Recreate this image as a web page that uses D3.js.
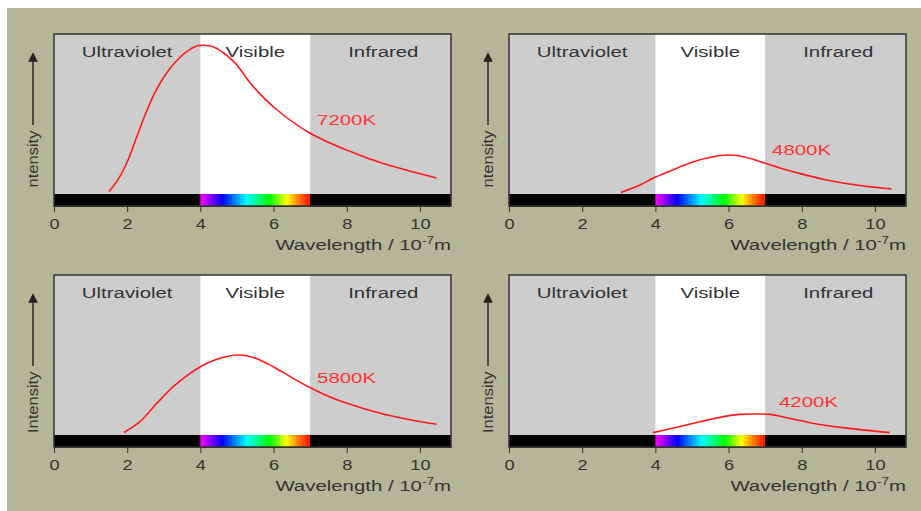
<!DOCTYPE html>
<html>
<head>
<meta charset="utf-8">
<script src="https://cdn.jsdelivr.net/npm/d3@7"></script>
<style>
  body { margin: 0; background: #fff; }
  text { font-family: "Liberation Sans", Arial, sans-serif; }
</style>
</head>
<body>
<div id="chart"></div>
<script>
// Wavelength (10^-7 m) and relative intensity
const temps = ["7200K", "4800K", "5800K", "4200K"];

const wl7200 = [1.5, 1.75, 2.0, 2.25, 2.5, 2.75, 3.0, 3.3, 3.6, 3.9, 4.1, 4.35, 4.9, 5.45, 6.1, 7.0, 8.1, 9.0, 10.45];
const in7200 = [1.5, 9, 20, 35, 50, 63, 73, 82, 88.5, 92.5, 93, 92, 83, 67, 52.5, 38, 26.5, 19, 10];

const wl4800 = [3.06, 3.58, 3.99, 4.58, 5.04, 5.58, 5.95, 6.31, 6.68, 6.95, 7.4, 7.95, 8.68, 9.59, 10.46];
const in4800 = [1.0, 5.6, 10.5, 16, 20.2, 23.3, 24.4, 23.8, 21.6, 19.6, 16.3, 12.8, 8.8, 5.3, 3.1];

const wl5800 = [1.91, 2.35, 2.81, 3.26, 3.72, 4.0, 4.45, 4.99, 5.45, 5.99, 6.54, 6.98, 7.63, 8.54, 9.45, 10.46];
const in5800 = [1.5, 8.3, 19.8, 30.2, 38.5, 42.7, 47.3, 50, 48.5, 42.7, 35.4, 29.8, 22.9, 16, 10.8, 6.7];

const wl4200 = [3.94, 4.58, 5.22, 5.86, 6.31, 6.68, 7.13, 7.59, 8.22, 9.13, 10.4];
const in4200 = [1.5, 4.8, 8.3, 11.5, 12.9, 13.1, 12.9, 10.8, 7.7, 4.6, 1.5];

// label anchor (wavelength, intensity) for each temperature
const labelWl = [7.19, 7.19, 7.19, 7.38];
const labelIn = [46, 27.5, 35.6, 20.6];

const regions = ["Ultraviolet", "Visible", "Infrared"];
const regionMid = [2, 5.5, 9];
const visibleBand = [4, 7];
const xTicks = [0, 2, 4, 6, 8, 10];

// spectrum stops (wavelength, colour)
const specWl = [4.0, 4.3, 4.6, 5.27, 5.9, 6.36, 6.66, 6.94];
const specCol = ["#ff00ff", "#8000ff", "#0000ff", "#00ffff", "#00ff00", "#ffff00", "#ff8000", "#ff2000"];

const series = [
  { wl: wl7200, val: in7200 },
  { wl: wl4800, val: in4800 },
  { wl: wl5800, val: in5800 },
  { wl: wl4200, val: in4200 },
];

// layout
const W = 921, H = 511;
const pw = 397, ph = 160, barH = 12;
const origins = [[54, 34], [509, 34], [54, 275], [509, 275]];
const wide = 1.36; // the original lettering is horizontally stretched

const svg = d3.select("#chart").append("svg")
  .attr("width", W).attr("height", H);

svg.append("rect").attr("width", W).attr("height", H).attr("fill", "#fff");
svg.append("rect").attr("x", 7).attr("y", 8).attr("width", W - 7).attr("height", H - 8)
  .attr("fill", "#b5b598");

const defs = svg.append("defs");
const x = d3.scaleLinear().domain([0, 10.85]).range([0, pw]);
const y = d3.scaleLinear().domain([0, 100]).range([ph, 0]);

const grad = defs.append("linearGradient").attr("id", "spectrum")
  .attr("x1", "0%").attr("x2", "100%");
grad.selectAll("stop").data(specWl).enter().append("stop")
  .attr("offset", (d) => ((d - visibleBand[0]) / (visibleBand[1] - visibleBand[0]) * 100) + "%")
  .attr("stop-color", (d, i) => specCol[i]);

// arrow marker for the intensity axis
defs.append("marker").attr("id", "arrow")
  .attr("viewBox", "0 0 10 10").attr("refX", 5).attr("refY", 5)
  .attr("markerWidth", 6).attr("markerHeight", 8).attr("orient", "auto")
  .append("path").attr("d", "M0,0 L10,5 L0,10 Z").attr("fill", "#222");

const line = d3.line()
  .x((d) => x(d[0]))
  .y((d) => y(d[1]))
  .curve(d3.curveCatmullRom);

// place text at (px,py) with the stretched look
function at(px, py, k) {
  return `translate(${px},${py}) scale(${k || wide},1)`;
}

series.forEach((s, i) => {
  const [ox, oy] = origins[i];
  const g = svg.append("g").attr("transform", `translate(${ox},${oy})`);

  // gray background + visible band
  g.append("rect").attr("width", pw).attr("height", ph + barH).attr("fill", "#cdcdcd");
  g.append("rect")
    .attr("x", x(visibleBand[0])).attr("width", x(visibleBand[1]) - x(visibleBand[0]))
    .attr("height", ph).attr("fill", "#fff");

  // black strip with spectrum
  g.append("rect").attr("y", ph).attr("width", pw).attr("height", barH).attr("fill", "#000");
  g.append("rect")
    .attr("x", x(visibleBand[0])).attr("y", ph)
    .attr("width", x(visibleBand[1]) - x(visibleBand[0])).attr("height", barH)
    .attr("fill", "url(#spectrum)");

  // frame
  g.append("rect").attr("width", pw).attr("height", ph + barH)
    .attr("fill", "none").attr("stroke", "#333").attr("stroke-width", 1.5);

  // region names
  g.selectAll(".region").data(regions).enter().append("text")
    .attr("transform", (d, j) => at(x(regionMid[j]), 23))
    .attr("text-anchor", "middle").attr("font-size", 15).attr("fill", "#333")
    .text((d) => d);

  // curve
  g.append("path")
    .datum(s.wl.map((w, j) => [w, s.val[j]]))
    .attr("d", line).attr("fill", "none")
    .attr("stroke", "#ff1a1a").attr("stroke-width", 1.6);

  g.append("text")
    .attr("transform", at(x(labelWl[i]), y(labelIn[i]) + 5))
    .attr("font-size", 15).attr("fill", "#ff3535")
    .text(temps[i]);

  // x axis
  const axis = d3.axisBottom(x).tickValues(xTicks).tickSize(6).tickSizeOuter(0).tickPadding(7);
  const ag = g.append("g").attr("transform", `translate(0,${ph + barH})`).call(axis);
  ag.select(".domain").attr("stroke", "#333");
  ag.selectAll(".tick line").attr("stroke", "#333");
  ag.selectAll(".tick text")
    .attr("transform", "scale(1.3,1)")
    .attr("font-size", 14).attr("fill", "#333")
    .attr("font-family", "Liberation Sans, Arial, sans-serif");

  const xl = g.append("text")
    .attr("transform", at(pw, 216))
    .attr("text-anchor", "end").attr("font-size", 15).attr("fill", "#333");
  xl.append("tspan").text("Wavelength / 10");
  xl.append("tspan").attr("font-size", 10).attr("dy", -6).text("-7");
  xl.append("tspan").attr("dy", 6).text("m");

  // intensity axis: arrow + label (top row clips the leading "I")
  g.append("line")
    .attr("x1", -21).attr("x2", -21).attr("y1", 91).attr("y2", 23)
    .attr("stroke", "#333").attr("stroke-width", 1.6)
    .attr("marker-end", "url(#arrow)");

  const clipId = "clip" + i;
  defs.append("clipPath").attr("id", clipId)
    .append("rect").attr("x", -40).attr("y", 60).attr("width", 30)
    .attr("height", i < 2 ? 94 : 120);

  g.append("g").attr("clip-path", `url(#${clipId})`)
    .append("text")
    .attr("transform", "translate(-16,158) rotate(-90) scale(1.1,1)")
    .attr("font-size", 15).attr("fill", "#333")
    .text("Intensity");
});
</script>
</body>
</html>
